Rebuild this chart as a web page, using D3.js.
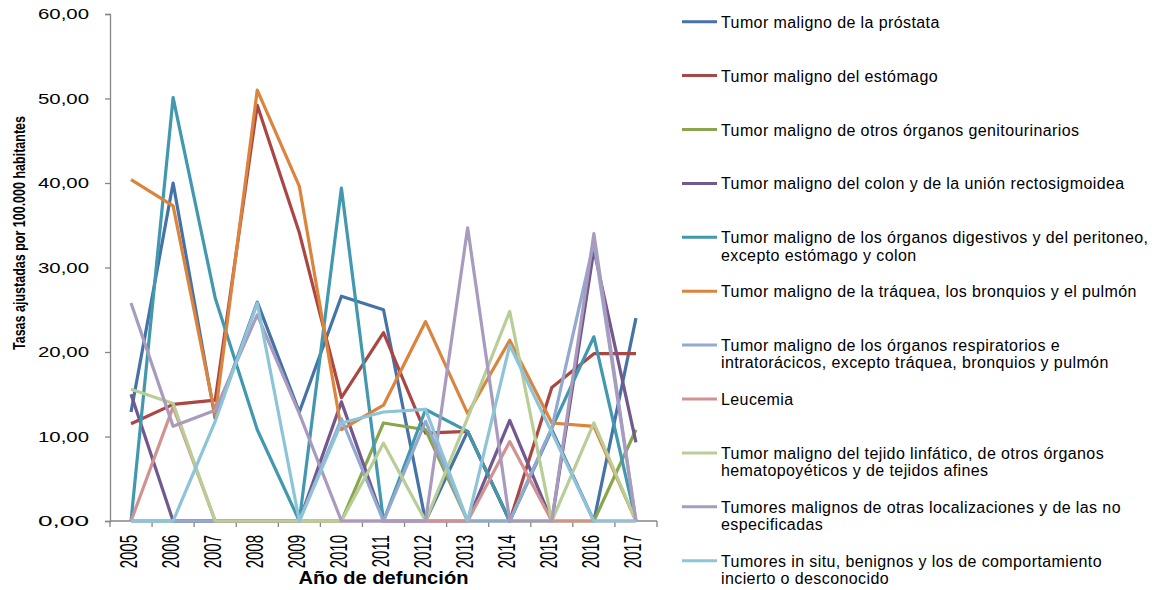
<!DOCTYPE html>
<html>
<head>
<meta charset="utf-8">
<script src="https://cdn.jsdelivr.net/npm/d3@7"></script>
<style>
  body { margin: 0; background: #fff; }
  text { font-family: "Liberation Sans", Arial, sans-serif; }
</style>
</head>
<body>
<div id="chart"></div>
<script>
var years = ["2005", "2006", "2007", "2008", "2009", "2010", "2011", "2012", "2013", "2014", "2015", "2016", "2017"];
var yTicks = [0, 10, 20, 30, 40, 50, 60];

var prostata      = [12.9, 40.0, 12.1, 25.9, 12.9, 26.6, 25.0, 0, 10.6, 0, 10.8, 0, 24.0];
var estomago      = [11.5, 13.8, 14.3, 49.2, 34.1, 14.6, 22.3, 10.4, 10.6, 0, 15.8, 19.8, 19.8];
var genito        = [0, 0, 0, 0, 0, 0, 11.6, 10.8, 0, 0, 0, 0, 10.8];
var colon         = [15.0, 0, 0, 0, 0, 14.1, 0, 0, 0, 11.9, 0, 32.1, 9.3];
var digestivos    = [0, 50.1, 26.4, 10.8, 0, 39.4, 0, 13.2, 10.6, 0, 11.0, 21.8, 0];
var traquea       = [40.4, 37.3, 12.5, 51.0, 39.6, 10.8, 13.7, 23.6, 12.7, 21.4, 11.6, 11.2, 0];
var respiratorios = [0, 0, 0, 0, 0, 12.1, 0, 11.8, 0, 0, 11.0, 33.0, 0];
var leucemia      = [0, 13.5, 0, 0, 0, 0, 0, 0, 0, 9.4, 0, 0, 0];
var linfatico     = [15.6, 13.9, 0, 0, 0, 0, 9.2, 0, 12.2, 24.8, 0, 11.6, 0];
var otras         = [25.8, 11.2, 13.1, 24.4, 12.7, 0, 0, 0, 34.7, 0, 0, 34.0, 0];
var insitu        = [0, 0, 11.8, 25.8, 0, 11.6, 12.9, 13.2, 0, 20.8, 10.5, 0, 0];

var labels = [
    ["Tumor maligno de la próstata"],
    ["Tumor maligno del estómago"],
    ["Tumor maligno de otros órganos genitourinarios"],
    ["Tumor maligno del colon y de la unión rectosigmoidea"],
    ["Tumor maligno de los órganos digestivos y del peritoneo,", "excepto estómago y colon"],
    ["Tumor maligno de la tráquea, los bronquios y el pulmón"],
    ["Tumor maligno de los órganos respiratorios e", "intratorácicos, excepto tráquea, bronquios y pulmón"],
    ["Leucemia"],
    ["Tumor maligno del tejido linfático, de otros órganos", "hematopoyéticos y de tejidos afines"],
    ["Tumores malignos de otras localizaciones y de las no", "especificadas"],
    ["Tumores in situ, benignos y los de comportamiento", "incierto o desconocido"]
];
var colors = ["#4572A7", "#AA4643", "#89A54E", "#71588F", "#4198AF", "#DB843D",
              "#93A9CF", "#D19392", "#B9CD96", "#A99BBD", "#8EC4D8"];

var series = [prostata, estomago, genito, colon, digestivos, traquea,
              respiratorios, leucemia, linfatico, otras, insitu];

var W = 1158, H = 590;
var plot = { left: 110, right: 657, top: 14, bottom: 521 };

var svg = d3.select("#chart")
    .append("svg")
    .attr("width", W)
    .attr("height", H);

var band = d3.scaleBand()
    .domain(years)
    .range([plot.left, plot.right]);

var x = d3.scalePoint()
    .domain(years)
    .range([plot.left, plot.right])
    .padding(0.5);

var y = d3.scaleLinear()
    .domain([0, 60])
    .range([plot.bottom, plot.top]);

var locale = d3.formatLocale({ decimal: ",", thousands: ".", grouping: [3], currency: ["", ""] });
var fmt = locale.format(".2f");

// Y axis
var yAxis = svg.append("g")
    .attr("transform", "translate(" + plot.left + ",0)")
    .call(d3.axisLeft(y).tickValues(yTicks).tickFormat(fmt).tickSize(5).tickPadding(16));
yAxis.select(".domain").attr("stroke", "#868686").attr("stroke-width", 1.3);
yAxis.selectAll(".tick line").attr("stroke", "#868686").attr("stroke-width", 1.3);
yAxis.selectAll(".tick text")
    .attr("font-size", 15)
    .attr("fill", "#000")
    .attr("textLength", 51)
    .attr("lengthAdjust", "spacingAndGlyphs")
    .style("font-family", "'Liberation Sans', Arial, sans-serif");

// X axis (ticks between categories like Excel)
svg.append("line")
    .attr("x1", plot.left).attr("x2", plot.right)
    .attr("y1", y(0)).attr("y2", y(0))
    .attr("stroke", "#868686").attr("stroke-width", 1.3);

var bounds = years.map(d => band(d)).concat([band.range()[1]]);
svg.selectAll("xtick")
    .data(bounds)
    .join("line")
    .attr("x1", d => d).attr("x2", d => d)
    .attr("y1", y(0)).attr("y2", y(0) + 6)
    .attr("stroke", "#868686").attr("stroke-width", 1.3);

svg.selectAll("xlabel")
    .data(years)
    .join("text")
    .attr("transform", d => "translate(" + (x(d) + 5.5) + ",535) scale(1.6,1) rotate(-90)")
    .attr("text-anchor", "end")
    .attr("font-size", 15)
    .attr("fill", "#000")
    .text(d => d);

// axis titles
svg.append("text")
    .attr("x", x("2011"))
    .attr("y", 584)
    .attr("text-anchor", "middle")
    .attr("font-size", 18)
    .attr("font-weight", "bold")
    .attr("textLength", 170)
    .attr("lengthAdjust", "spacingAndGlyphs")
    .text("Año de defunción");

svg.append("text")
    .attr("transform", "translate(25,233) rotate(-90)")
    .attr("text-anchor", "middle")
    .attr("font-size", 17)
    .attr("font-weight", "bold")
    .attr("textLength", 234)
    .attr("lengthAdjust", "spacingAndGlyphs")
    .text("Tasas ajustadas por 100.000 habitantes");

// lines
var line = d3.line()
    .x((d, i) => x(years[i]))
    .y(d => y(d));

svg.selectAll("series")
    .data(series)
    .join("path")
    .attr("d", d => line(d))
    .attr("fill", "none")
    .attr("stroke", (d, i) => colors[i])
    .attr("stroke-width", 3.2)
    .attr("stroke-linejoin", "round");

// legend
var legend = svg.selectAll("legend")
    .data(labels)
    .join("g")
    .attr("transform", (d, i) => "translate(682," + (21.7 + i * 53.9) + ")");

legend.append("line")
    .attr("x1", 0).attr("x2", 35)
    .attr("stroke", (d, i) => colors[i])
    .attr("stroke-width", 3);

legend.append("text")
    .attr("font-size", 16)
    .attr("letter-spacing", 0.4)
    .attr("fill", "#000")
    .selectAll("tspan")
    .data(d => d)
    .join("tspan")
    .attr("x", 39)
    .attr("y", (d, i) => 6 + i * 17.3)
    .text(d => d);
</script>
</body>
</html>
